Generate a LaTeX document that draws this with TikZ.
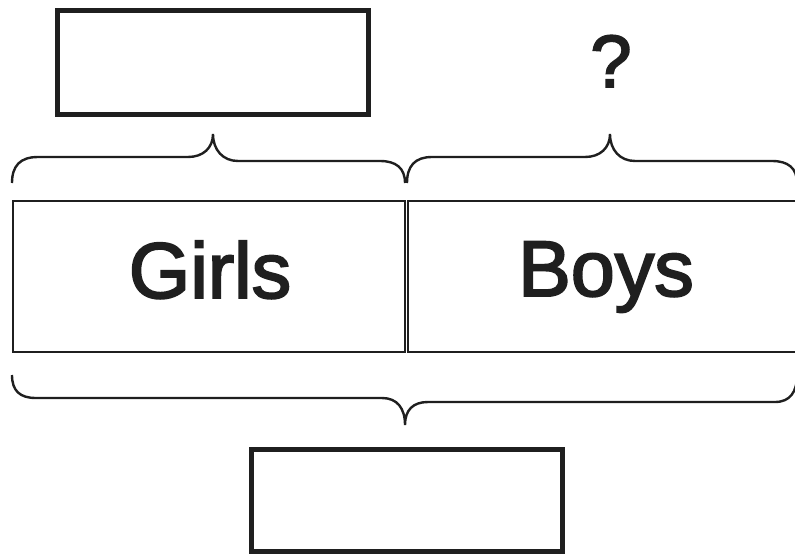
\documentclass[tikz,border=0pt]{standalone}
\usepackage{fontspec}
\setmainfont{Liberation Sans}
\newfontfamily\medfont[FakeBold=2.5]{Liberation Sans}
\begin{document}
\begin{tikzpicture}[x=1pt,y=-1pt,
  answerbox/.style={draw=black!88, line width=5pt, rectangle, inner sep=0pt},
  barbox/.style={draw=black!88, line width=2.2pt, rectangle, inner sep=0pt},
  bracepath/.style={draw=black!88, line width=2.4pt},
  bigtext/.style={font=\medfont\fontsize{79}{79}\selectfont, text=black!88, inner sep=0pt},
  qtext/.style={font=\medfont\fontsize{74}{74}\selectfont, text=black!88, inner sep=0pt}]
\useasboundingbox (0,0) rectangle (795,554);
\clip (0,0) rectangle (795,554);
% answer boxes
\node[answerbox, minimum width=311pt, minimum height=104pt] (boxtop) at (213,62.5) {};
\node[answerbox, minimum width=311pt, minimum height=102pt] (boxbot) at (407,500.5) {};
\node[qtext, anchor=base] (q) at (611,87) {?};
% bar
\node[barbox, minimum width=392pt, minimum height=151pt] (barL) at (209,276.5) {};
\node[barbox, minimum width=400pt, minimum height=151pt] (barR) at (608,276.5) {};
\node[bigtext, anchor=base] (girls) at (210,298) {Girls};
\node[bigtext, anchor=base] (boys) at (606,296) {Boys};
% top left brace
\path[bracepath] (12,183) .. controls (12,166) and (20,157) .. (38,157)
  -- (188,157) .. controls (203,157) and (213,148) .. (213,134)
  .. controls (213,150) and (223,161) .. (238,161)
  -- (380,161) .. controls (396,161) and (405,168) .. (405,183);
% top right brace
\path[bracepath] (407,183) .. controls (407,166) and (415,157) .. (432,157)
  -- (585,157) .. controls (600,157) and (610,148) .. (610,134)
  .. controls (610,150) and (620,161) .. (635,161)
  -- (772,161) .. controls (788,161) and (797,168) .. (797,183);
% bottom brace
\path[bracepath] (12,375) .. controls (12,391) and (20,398) .. (36,398)
  -- (382,398) .. controls (397,398) and (405,408) .. (405,425)
  .. controls (405,410) and (413,402) .. (428,402)
  -- (775,402) .. controls (790,402) and (797,392) .. (797,375);
\end{tikzpicture}
\end{document}
